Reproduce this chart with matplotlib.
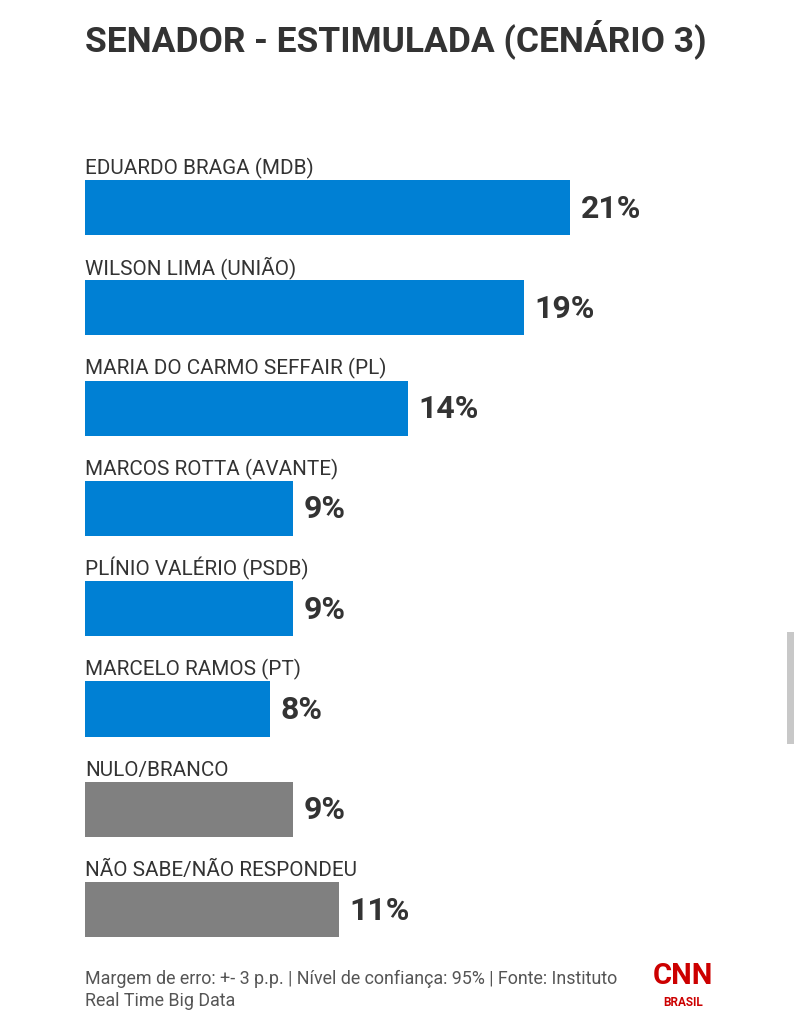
import matplotlib.pyplot as plt
from matplotlib.patches import Rectangle

labels = ["EDUARDO BRAGA (MDB)", "WILSON LIMA (UNIÃO)", "MARIA DO CARMO SEFFAIR (PL)",
          "MARCOS ROTTA (AVANTE)", "PLÍNIO VALÉRIO (PSDB)", "MARCELO RAMOS (PT)",
          "NULO/BRANCO", "NÃO SABE/NÃO RESPONDEU"]
values = [21, 19, 14, 9, 9, 8, 9, 11]
colors = ["#0080d4"] * 6 + ["#808080"] * 2

title = "SENADOR - ESTIMULADA (CENÁRIO 3)"
footer = "Margem de erro: +- 3 p.p. | Nível de confiança: 95% | Fonte: Instituto\nReal Time Big Data"

plt.rcParams['font.family'] = ['Roboto', 'DejaVu Sans']

W, H = 794, 1024
fig = plt.figure(figsize=(W / 100, H / 100), dpi=100)

# axes placed in pixel coordinates: bars start at x=85, 1% = 23.1 px
ax_left, ax_right = 85, 785
ax_top, ax_bot = 157.4, 959.8
ax = fig.add_axes([ax_left / W, 1 - ax_bot / H, (ax_right - ax_left) / W, (ax_bot - ax_top) / H])
ax.set_xlim(0, (ax_right - ax_left) / 23.1)
ax.set_ylim(len(values) - 0.5, -0.5)
ax.axis('off')

bh = 0.55
pos = list(range(len(values)))
ax.barh(pos, values, height=bh, color=colors, edgecolor='none')
for i, (lab, v) in enumerate(zip(labels, values)):
    ax.text(0, i - bh / 2 - 0.06, lab, fontsize=14.9, color='#333333', va='baseline', ha='left')
    ax.text(v + 0.45, i + 0.01, f"{v}%", fontsize=23, fontweight='bold', color='#333333',
            va='center', ha='left')

fig.text(85 / W, 1 - 39 / H, title, fontsize=25.5, fontweight='bold', color='#333333',
         va='center', ha='left')
fig.text(85 / W, 1 - 990 / H, footer, fontsize=12.9, color='#555555', va='center', ha='left',
         linespacing=1.3)

# CNN Brasil logo (approximation)
fig.text(683 / W, 1 - 976 / H, "CNN", fontsize=21, fontweight='bold', color='#cc0000',
         va='center', ha='center')
fig.text(683 / W, 1 - 1003 / H, "BRASIL", fontsize=8.5, fontweight='bold', color='#cc0000',
         va='center', ha='center')

# scrollbar strip at right edge
fig.patches.append(Rectangle((787 / W, 1 - 744 / H), 7 / W, 112 / H, transform=fig.transFigure,
                             facecolor='#c8c8c8', edgecolor='none'))

fig.savefig("out.png", dpi=100, facecolor='white')
